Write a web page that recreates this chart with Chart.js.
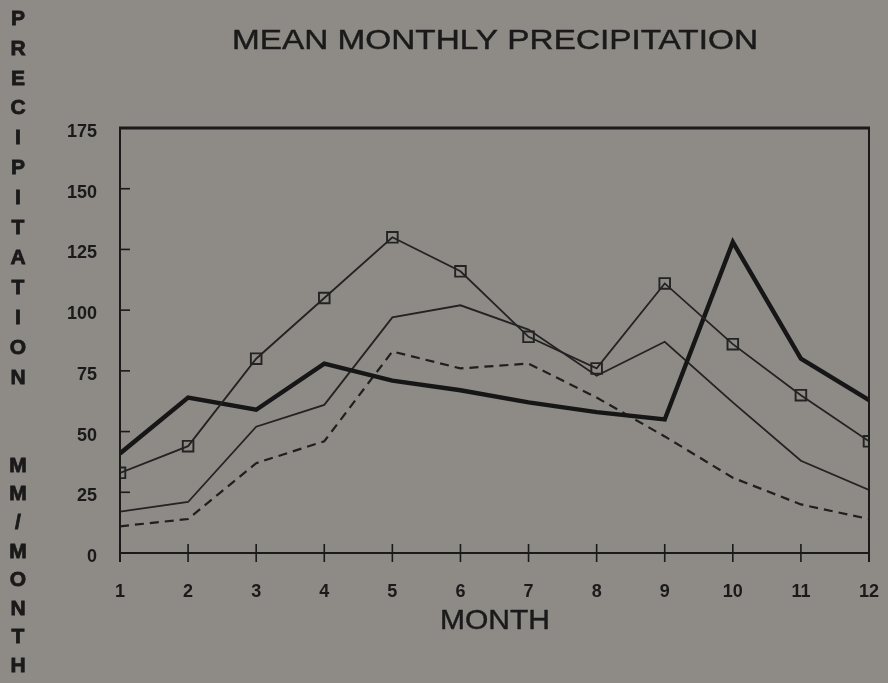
<!DOCTYPE html>
<html>
<head>
<meta charset="utf-8">
<script src="https://cdn.jsdelivr.net/npm/chart.js@4/dist/chart.umd.min.js"></script>
<style>
  html, body { margin: 0; padding: 0; background: #8e8a86; }
  #wrap { width: 888px; height: 683px; position: relative; }
</style>
</head>
<body>
<div id="wrap"><canvas id="c" width="888" height="683"></canvas></div>
<script>
// Mean monthly precipitation (mm/month), four stations
const months = [1, 2, 3, 4, 5, 6, 7, 8, 9, 10, 11, 12];
const squareStation = [33, 44, 80, 105, 130, 116, 89, 76, 111, 86, 65, 46];
const heavyStation  = [41, 64, 59, 78, 71, 67, 62, 58, 55, 128, 80, 63];
const thinStation   = [17, 21, 52, 61, 97, 102, 92, 73, 87, 62, 38, 26];
const dashedStation = [11, 14, 37, 46, 83, 76, 78, 64, 48, 31, 20, 14];
const yTicks = [0, 25, 50, 75, 100, 125, 150, 175];

const titleText = 'MEAN MONTHLY PRECIPITATION';
const xTitleText = 'MONTH';
const yTitleTop = 'PRECIPITATION';
const yTitleBottom = 'MM/MONTH';

const INK = '#1a1a1a';
const pairs = vals => months.map((m, i) => ({ x: m, y: vals[i] }));

// Axis decorations: inward y ticks, crossing x ticks, frame, titles
const decorations = {
  id: 'decorations',
  afterDraw(chart) {
    const { ctx, chartArea: a, scales } = chart;
    const xs = scales.x, ys = scales.y;
    ctx.save();
    ctx.strokeStyle = INK;
    ctx.lineCap = 'butt';

    // frame: heavy top, sides reaching below the axis
    ctx.lineWidth = 3;
    ctx.beginPath(); ctx.moveTo(a.left - 1, a.top); ctx.lineTo(a.right + 1, a.top); ctx.stroke();
    ctx.lineWidth = 2;
    ctx.beginPath(); ctx.moveTo(a.right, a.top); ctx.lineTo(a.right, a.bottom + 9); ctx.stroke();
    ctx.beginPath(); ctx.moveTo(a.left, a.top); ctx.lineTo(a.left, a.bottom + 9); ctx.stroke();
    ctx.beginPath(); ctx.moveTo(a.left, a.bottom); ctx.lineTo(a.right, a.bottom); ctx.stroke();

    // y tick marks pointing into the plot
    ctx.lineWidth = 1.6;
    yTicks.forEach(v => {
      const y = ys.getPixelForValue(v);
      ctx.beginPath(); ctx.moveTo(a.left, y); ctx.lineTo(a.left + 10, y); ctx.stroke();
    });
    // x tick marks crossing the axis
    months.forEach(m => {
      const x = xs.getPixelForValue(m);
      ctx.beginPath(); ctx.moveTo(x, a.bottom - 9); ctx.lineTo(x, a.bottom + 9); ctx.stroke();
    });

    ctx.fillStyle = INK;
    ctx.textAlign = 'center';
    ctx.textBaseline = 'middle';

    // stretched plotter-style text helper, lightly stroked for pen weight
    const wide = (text, cx, cy, size, width) => {
      ctx.save();
      ctx.font = size + 'px "Liberation Sans", Arial, sans-serif';
      const w = ctx.measureText(text).width;
      ctx.translate(cx, cy);
      ctx.scale(width / w, 1);
      ctx.lineWidth = 0.45;
      ctx.fillText(text, 0, 0);
      ctx.strokeText(text, 0, 0);
      ctx.restore();
    };
    wide(titleText, 495, 41, 28, 526);
    wide(xTitleText, 495, 621, 28, 110);

    // vertical stacked y-axis title
    ctx.font = 'bold 21px "Liberation Sans", Arial, sans-serif';
    ctx.lineWidth = 0.8;
    const letter = (ch, y) => { ctx.fillText(ch, 18, y); ctx.strokeText(ch, 18, y); };
    [...yTitleTop].forEach((ch, i) => letter(ch, 19 + i * 29.9));
    [...yTitleBottom].forEach((ch, i) => letter(ch, 466 + i * 28.6));
    ctx.restore();
  }
};

const tickFont = { family: '"Liberation Sans", Arial, sans-serif', size: 18, weight: 'bold' };

new Chart(document.getElementById('c'), {
  type: 'line',
  data: {
    datasets: [
      {
        data: pairs(squareStation),
        borderColor: '#232323', borderWidth: 1.8,
        pointStyle: 'rect', pointRadius: 7.5, pointBorderWidth: 1.9,
        pointBorderColor: '#232323', pointBackgroundColor: 'rgba(0,0,0,0)',
        tension: 0
      },
      {
        data: pairs(heavyStation),
        borderColor: '#161616', borderWidth: 4.4,
        pointRadius: 0, tension: 0, borderJoinStyle: 'miter'
      },
      {
        data: pairs(thinStation),
        borderColor: '#232323', borderWidth: 1.8,
        pointRadius: 0, tension: 0
      },
      {
        data: pairs(dashedStation),
        borderColor: '#1f1f1f', borderWidth: 2.2, borderDash: [9, 6],
        pointRadius: 0, tension: 0
      }
    ]
  },
  options: {
    responsive: false,
    animation: false,
    layout: { padding: { left: 0, top: 128, right: 19, bottom: 0 } },
    plugins: { legend: { display: false }, tooltip: { enabled: false }, title: { display: false } },
    scales: {
      x: {
        type: 'linear', min: 1, max: 12,
        grid: { display: false, drawTicks: false },
        border: { display: false },
        afterFit(s) { s.height = 130; s.paddingLeft = 0; s.paddingRight = 0; },
        ticks: { stepSize: 1, autoSkip: false, maxRotation: 0, color: INK, font: tickFont, padding: 28 }
      },
      y: {
        type: 'linear', min: 0, max: 175,
        grid: { display: false, drawTicks: false },
        border: { display: false },
        afterFit(s) { s.width = 120; s.paddingTop = 0; s.paddingBottom = 0; },
        afterBuildTicks(s) { s.ticks = yTicks.map(v => ({ value: v })); },
        ticks: { color: INK, font: tickFont, padding: 23, labelOffset: 4 }
      }
    }
  },
  plugins: [decorations]
});
</script>
</body>
</html>
